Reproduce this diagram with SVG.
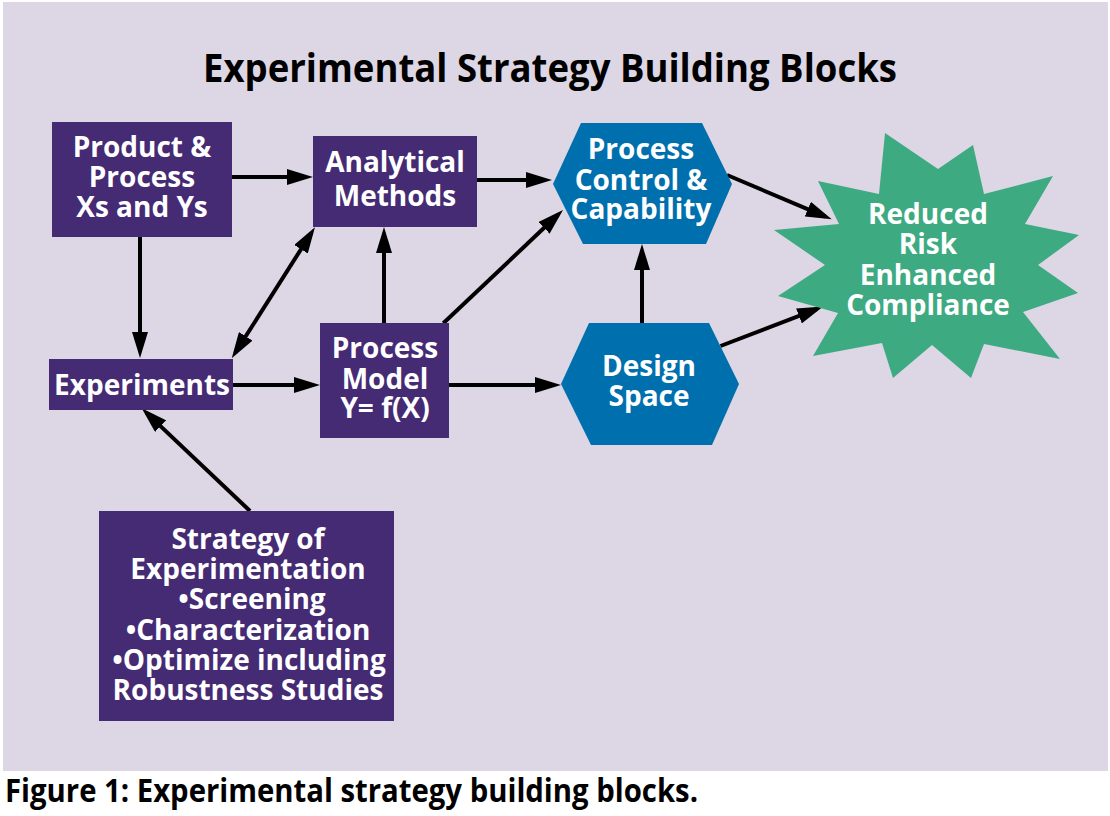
<svg xmlns="http://www.w3.org/2000/svg" width="1110" height="816" viewBox="0 0 1110 816">
  <defs>
    <style>
      .bg { fill: #DDD6E4; }
      .box { fill: #452A74; }
      .hex { fill: #006FAD; }
      .burst { fill: #3DAA82; }
      .lbl { font-family: "Open Sans", "Noto Sans", "Liberation Sans", sans-serif; font-weight: 700; font-size: 28px; fill: #FFFFFF; text-anchor: middle; }
      .title { font-family: "Open Sans", "Noto Sans", "Liberation Sans", sans-serif; font-weight: 700; fill: #000000; }
      .wire { stroke: #000000; stroke-width: 4; fill: none; }
    </style>
    <marker id="head" markerUnits="userSpaceOnUse" markerWidth="26" markerHeight="16" refX="19" refY="8" orient="auto-start-reverse" viewBox="0 0 26 16">
      <path d="M0,0 L26,8 L0,16 Z" fill="#000000"/>
    </marker>
  </defs>

  <!-- panel background -->
  <rect class="bg" x="3" y="2" width="1105" height="769"/>

  <text class="title" x="550" y="82" font-size="39" text-anchor="middle" textLength="694" lengthAdjust="spacingAndGlyphs">Experimental Strategy Building Blocks</text>

  <!-- connectors -->
  <g id="connectors">
    <line class="wire" x1="232" y1="177" x2="306" y2="177" marker-end="url(#head)"/>
    <line class="wire" x1="477" y1="180" x2="545" y2="180" marker-end="url(#head)"/>
    <line class="wire" x1="140" y1="237" x2="140" y2="351" marker-end="url(#head)"/>
    <line class="wire" x1="235.5" y1="352.4" x2="311.2" y2="233.2" marker-start="url(#head)" marker-end="url(#head)"/>
    <line class="wire" x1="384" y1="323" x2="384" y2="234" marker-end="url(#head)"/>
    <line class="wire" x1="233" y1="385" x2="313" y2="385" marker-end="url(#head)"/>
    <line class="wire" x1="443.3" y1="323.3" x2="557.9" y2="214.8" marker-end="url(#head)"/>
    <line class="wire" x1="449" y1="385" x2="554" y2="385" marker-end="url(#head)"/>
    <line class="wire" x1="642" y1="323" x2="642" y2="251" marker-end="url(#head)"/>
    <line class="wire" x1="727" y1="175" x2="825.3" y2="216.6" marker-end="url(#head)"/>
    <line class="wire" x1="720.5" y1="346" x2="816.7" y2="309.1" marker-end="url(#head)"/>
    <line class="wire" x1="250" y1="511" x2="146.8" y2="413.1" marker-end="url(#head)"/>
  </g>

  <g id="product-process">
    <rect class="box" x="52" y="122" width="180" height="115"/>
    <text class="lbl"><tspan x="142" y="157">Product &amp;</tspan><tspan x="142" y="187">Process</tspan><tspan x="142" y="217">Xs and Ys</tspan></text>
  </g>

  <g id="analytical-methods">
    <rect class="box" x="313" y="136" width="164" height="91"/>
    <text class="lbl"><tspan x="395" y="172">Analytical</tspan><tspan x="395" y="206">Methods</tspan></text>
  </g>

  <g id="experiments">
    <rect class="box" x="49" y="359" width="184" height="51"/>
    <text class="lbl" x="142" y="395">Experiments</text>
  </g>

  <g id="process-model">
    <rect class="box" x="320" y="323" width="129" height="115"/>
    <text class="lbl"><tspan x="385" y="358">Process</tspan><tspan x="385" y="389">Model</tspan><tspan x="385" y="418">Y= f(X)</tspan></text>
  </g>

  <g id="strategy">
    <rect class="box" x="99" y="511" width="295" height="210"/>
    <text class="lbl"><tspan x="248" y="549">Strategy of</tspan><tspan x="248" y="579">Experimentation</tspan><tspan x="252" y="609">•Screening</tspan><tspan x="248" y="640">•Characterization</tspan><tspan x="249" y="670">•Optimize including</tspan><tspan x="248" y="700">Robustness Studies</tspan></text>
  </g>

  <g id="process-control">
    <polygon class="hex" points="553,184 581,123 702,123 732,184 706,244 583,244"/>
    <text class="lbl"><tspan x="641" y="159">Process</tspan><tspan x="641" y="190">Control &amp;</tspan><tspan x="641" y="219">Capability</tspan></text>
  </g>

  <g id="design-space">
    <polygon class="hex" points="561,384 589,323 709,323 739,384 712,445 591,445"/>
    <text class="lbl"><tspan x="649" y="376">Design</tspan><tspan x="649" y="406">Space</tspan></text>
  </g>

  <g id="reduced-risk">
    <polygon class="burst" points="885,133 938,169 973,145 984,194 1053,176 1025,224 1079,235 1038,265 1078,293 1023,312 1060,359 984,344 971,378 932,345 893,378 882,343 813,356 838,313 778,296 825,265 774,230 839,224 818,181 879,194"/>
    <text class="lbl"><tspan x="928" y="224">Reduced</tspan><tspan x="928" y="254">Risk</tspan><tspan x="928" y="285">Enhanced</tspan><tspan x="928" y="315">Compliance</tspan></text>
  </g>

  <text class="title" x="5" y="802" font-size="33" textLength="693" lengthAdjust="spacingAndGlyphs">Figure 1: Experimental strategy building blocks.</text>
</svg>
